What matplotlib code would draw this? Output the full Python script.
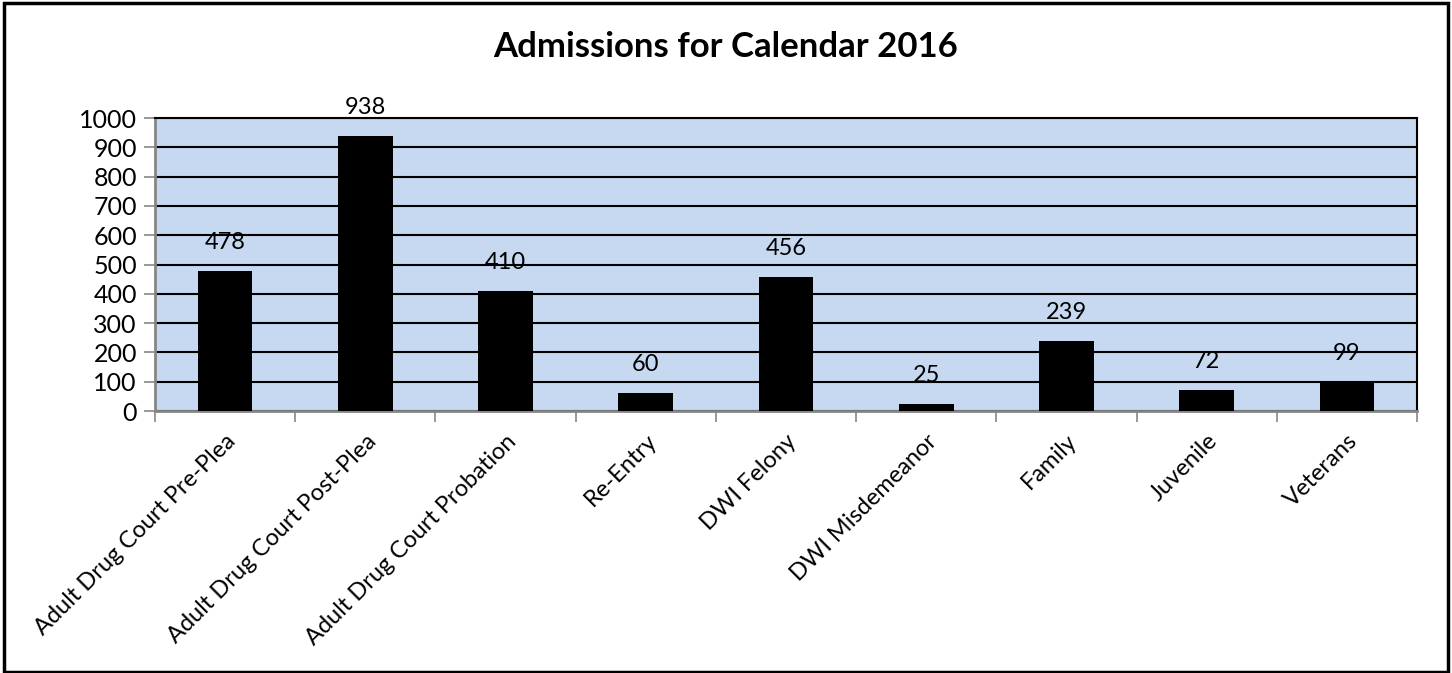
import matplotlib
matplotlib.use("Agg")
import matplotlib.pyplot as plt
from matplotlib.patches import Rectangle

categories = ["Adult Drug Court Pre-Plea", "Adult Drug Court Post-Plea",
              "Adult Drug Court Probation", "Re-Entry", "DWI Felony",
              "DWI Misdemeanor", "Family", "Juvenile", "Veterans"]
admissions = [478, 938, 410, 60, 456, 25, 239, 72, 99]
yticks = list(range(0, 1001, 100))
title = "Admissions for Calendar 2016"

plt.rcParams['font.family'] = ['Lato', 'DejaVu Sans']

fig = plt.figure(figsize=(14.52, 6.73), dpi=100)
ax = fig.add_axes([155/1452, 1-411/673, (1417-155)/1452, (411-118)/673])
ax.set_facecolor('#C6D9F1')

x = list(range(len(categories)))
ax.bar(x, admissions, width=0.39, color='black', zorder=3)
for xi, v in zip(x, admissions):
    ax.annotate(str(v), (xi, v), xytext=(0, 13), textcoords='offset points',
                ha='center', va='bottom', fontsize=17, color='black', zorder=4)

ax.set_xlim(-0.5, len(categories) - 0.5)
ax.set_ylim(0, 1000)
ax.set_yticks(yticks)
ax.set_yticklabels([str(t) for t in yticks], fontsize=18)
ax.yaxis.grid(True, color='black', linewidth=1.5, zorder=1)
ax.set_axisbelow(True)

ax.set_xticks(x)
ax.set_xticklabels(categories, rotation=45, ha='right', rotation_mode='anchor', fontsize=17)
ax.tick_params(axis='x', length=0, pad=14)
ax.set_xticks([i - 0.5 for i in range(len(categories) + 1)], minor=True)
ax.tick_params(axis='x', which='minor', length=8, color='#868686', width=1.2)
ax.tick_params(axis='y', length=8, color='#868686', width=1.2, pad=5)

for s in ['left', 'bottom']:
    ax.spines[s].set_color('#868686')
    ax.spines[s].set_linewidth(2)
for s in ['top', 'right']:
    ax.spines[s].set_color('black')
    ax.spines[s].set_linewidth(1.5)

fig.text(726/1452, 1-47/673, title, ha='center', va='center', fontsize=25, fontweight='bold')

fig.patches.append(Rectangle((0.003, 0.002), 0.994, 0.993, transform=fig.transFigure,
                             fill=False, edgecolor='black', linewidth=2.5))

fig.savefig('out.png', dpi=100)
